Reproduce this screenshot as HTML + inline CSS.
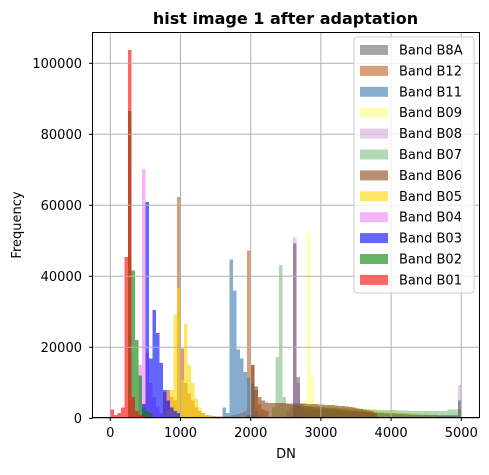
<!DOCTYPE html>
<html><head><meta charset="utf-8"><style>
body{margin:0;background:#fff;}
svg{font-family:"DejaVu Sans","Liberation Sans",sans-serif;}
</style></head><body>
<svg id="chart" width="489" height="470" viewBox="0 0 489 470">
<text x="285.5" y="24" text-anchor="middle" font-size="16" font-weight="bold">hist image 1 after adaptation</text>
<g id="bars" shape-rendering="crispEdges"></g>
<g id="grid"></g>
<rect x="92.5" y="32.5" width="387" height="385" fill="none" stroke="#000" stroke-width="1"/>
<g id="ticks" font-size="13"></g>
<text x="286" y="458" text-anchor="middle" font-size="13">DN</text>
<text x="21" y="225" text-anchor="middle" font-size="13" transform="rotate(-90 21 225)">Frequency</text>
<g id="legend"></g>
</svg>
<script>
const xTicks=[0,1000,2000,3000,4000,5000];
const yTicks=[0,20000,40000,60000,80000,100000];
const bandNames=["Band B8A","Band B12","Band B11","Band B09","Band B08","Band B07","Band B06","Band B05","Band B04","Band B03","Band B02","Band B01"];
const binWidth=50;
const b8aStart=2600;
const b8aCounts=[49300,11600,4000,3500,3300,3200,3100,3000,3000,2900,2800,2700,2600,2500,2400,2300,2200,2100,2000,1900,1800,1700,1700,1600,1500,1500,1400,1400,1300,1300,1200,1200,1100,1100,1000,1000,1000,900,900,900,900,800,800,800,800,800,800,5000];
const b12Start=750;
const b12Counts=[7400,8000,6000,5000,62300,19600,10000,7000,5000,3000,2000,1500,1000,800,600,500,500,500,600,800,1000,1200,1500,2000,47300,15000,8000,4000,2500,2000];
const b11Start=1600;
const b11Counts=[3000,1500,44800,36000,19400,16800,13000,11500,9800,2000];
const b09Start=2750;
const b09Counts=[5000,52000,12000,4000,3600,3500,3400,3300,3300,3200,3200,3100,3100,3000,3000,2900,2900,2800,2700,2600,2500,2400,2300,2200,2100,2000,1900,1800,1700,1600,1500,1400,1300,1200,1100,1000,900,800];
const b08Start=2500;
const b08Counts=[2000,3000,51000,10000,3000,2800,2700,2600,2600,2500,2500,2400,2400,2300,2300,2200,2200,2100,2100,2000,2000,1900,1900,1800,1800,1700,1700,1600,1600,1500,1500,1400,1400,1300,1300,1200,1200,1200,1100,1100,1100,1000,1000,1000,1000,1000,1000,1000,1000,9400];
const b07Start=2300;
const b07Counts=[3000,17300,43200,6000,4000,3800,3600,3500,3500,3400,3400,3300,3300,3200,3200,3100,3100,3000,3000,2900,2900,2800,2800,2700,2700,2600,2600,2500,2500,2500,2400,2400,2400,2300,2300,2300,2200,2200,2200,2100,2100,2100,2000,2000,2000,2000,2000,2000,2000,2000,2500,2500,2500,2500];
const b06Start=1950;
const b06Counts=[1000,15000,9000,6000,5000,4500,4300,4300,4300,4300,4300,4200,4200,4200,4100,4100,4100,4000,4000,4000,3900,3900,3800,3800,3700,3600,3500,3400,3300,3200,3000,2800,2600,2400,2200,2000,1500];
const b05Start=800;
const b05Counts=[2000,8000,29300,36700,11000,26700,15000,10000,5600,3000,1500,1000,600];
const b04Start=400;
const b04Counts=[15000,70200,18600,10000,6000,3000,1500];
const b03Start=450;
const b03Counts=[4000,61000,16800,30500,24000,15600,8000,5000,3000,2000,1500];
const b02Start=250;
const b02Counts=[86600,41700,22000,12000,3000,2000,1500];
const b01Start=0;
const b01Counts=[2500,1000,1500,3000,45400,103700,6000,2000,1000,800];

const bands=[
 {s:b8aStart,c:b8aCounts,col:"#808080",op:0.7},
 {s:b12Start,c:b12Counts,col:"#c86a30",op:0.65},
 {s:b11Start,c:b11Counts,col:"#4682b4",op:0.65},
 {s:b09Start,c:b09Counts,col:"#ffff00",op:0.3},
 {s:b08Start,c:b08Counts,col:"#800080",op:0.2},
 {s:b07Start,c:b07Counts,col:"#008000",op:0.3},
 {s:b06Start,c:b06Counts,col:"#8b4513",op:0.6},
 {s:b05Start,c:b05Counts,col:"#ffd700",op:0.6},
 {s:b04Start,c:b04Counts,col:"#ee82ee",op:0.6},
 {s:b03Start,c:b03Counts,col:"#0000ff",op:0.6},
 {s:b02Start,c:b02Counts,col:"#008000",op:0.6},
 {s:b01Start,c:b01Counts,col:"#ff0000",op:0.6}
];
const NS="http://www.w3.org/2000/svg";
function xs(v){return 110.3+v*0.0702;}
function ys(v){return 418.3-v*0.00355;}
const grid=document.getElementById('grid'),ticks=document.getElementById('ticks');
xTicks.forEach(t=>{
 const l=document.createElementNS(NS,'line');
 l.setAttribute('x1',xs(t));l.setAttribute('x2',xs(t));l.setAttribute('y1',32);l.setAttribute('y2',417);
 l.setAttribute('stroke','#b0b0b0');l.setAttribute('stroke-width','1');
 
 
 grid.appendChild(l);
 const tk=document.createElementNS(NS,'line');
 tk.setAttribute('x1',xs(t));tk.setAttribute('x2',xs(t));tk.setAttribute('y1',417);tk.setAttribute('y2',421);tk.setAttribute('stroke','#000');
 
 
 ticks.appendChild(tk);
 const tx=document.createElementNS(NS,'text');
 tx.setAttribute('x',xs(t));tx.setAttribute('y',437);tx.setAttribute('text-anchor','middle');tx.textContent=t;
 
 
 ticks.appendChild(tx);
});
yTicks.forEach(t=>{
 const l=document.createElementNS(NS,'line');
 l.setAttribute('x1',93);l.setAttribute('x2',479);l.setAttribute('y1',ys(t));l.setAttribute('y2',ys(t));
 l.setAttribute('stroke','#b0b0b0');l.setAttribute('stroke-width','1');
 
 
 grid.appendChild(l);
 const tk=document.createElementNS(NS,'line');
 tk.setAttribute('x1',89);tk.setAttribute('x2',93);tk.setAttribute('y1',ys(t));tk.setAttribute('y2',ys(t));tk.setAttribute('stroke','#000');
 
 
 ticks.appendChild(tk);
 const tx=document.createElementNS(NS,'text');
 tx.setAttribute('x',82);tx.setAttribute('y',ys(t)+4.5);tx.setAttribute('text-anchor','end');tx.textContent=t;
 
 
 ticks.appendChild(tx);
});
const barsG=document.getElementById('bars');
bands.forEach((b,bi)=>{
 const g=document.createElementNS(NS,'g');
 g.setAttribute('fill',b.col);g.setAttribute('opacity',b.op);
 
 
 b.c.forEach((v,i)=>{
  const x0=xs(b.s+i*binWidth),x1=xs(b.s+(i+1)*binWidth);
  const r=document.createElementNS(NS,'rect');
  r.setAttribute('x',x0);r.setAttribute('width',x1-x0+0.05);
  r.setAttribute('y',ys(v));r.setAttribute('height',ys(0)-ys(v));
  
  
  g.appendChild(r);
 });
 barsG.appendChild(g);
});
const lg=document.getElementById('legend');
const box=document.createElementNS(NS,'rect');
box.setAttribute('x',354);box.setAttribute('y',37);box.setAttribute('width',120);box.setAttribute('height',256);
box.setAttribute('rx',3);box.setAttribute('fill','#fff');box.setAttribute('fill-opacity','0.8');box.setAttribute('stroke','#ccc');


lg.appendChild(box);
bandNames.forEach((n,i)=>{
 const y=50+i*20.9;
 const p=document.createElementNS(NS,'rect');
 p.setAttribute('x',360);p.setAttribute('y',y-5);p.setAttribute('width',28);p.setAttribute('height',10);
 p.setAttribute('fill',bands[i].col);p.setAttribute('opacity',bands[i].op);
 
 
 lg.appendChild(p);
 const t=document.createElementNS(NS,'text');
 t.setAttribute('x',399);t.setAttribute('y',y+4.5);t.setAttribute('font-size','13');t.textContent=n;
 
 
 lg.appendChild(t);
});
</script>
</body></html>
